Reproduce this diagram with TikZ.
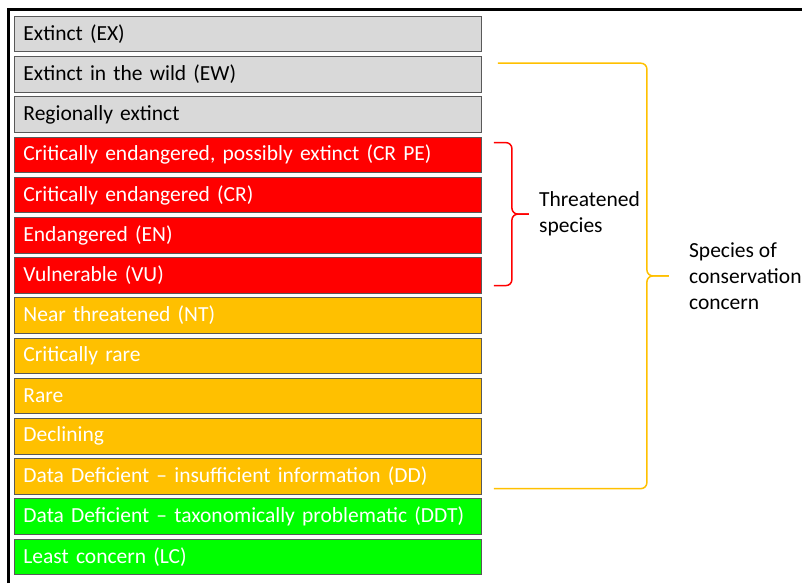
\documentclass[tikz,border=0pt]{standalone}
\usepackage{fontspec}
\setmainfont{Carlito}
\usetikzlibrary{positioning,calc}
\definecolor{iucngrey}{HTML}{D9D9D9}
\definecolor{iucnred}{HTML}{FF0000}
\definecolor{iucnorange}{HTML}{FFC000}
\definecolor{iucngreen}{HTML}{00FF00}
\definecolor{iucnedge}{HTML}{595959}

\begin{document}
\begin{tikzpicture}[x=1pt,y=1pt,
  cat/.style={rectangle, draw=iucnedge, line width=0.9pt, text width=449pt,
    align=left, inner xsep=9pt, inner ysep=0pt, minimum height=35.5pt,
    font=\fontsize{21.5pt}{26pt}\selectfont},
  greycat/.style={cat, fill=iucngrey, text=black},
  redcat/.style={cat, fill=iucnred, text=white},
  orangecat/.style={cat, fill=iucnorange, text=white},
  greencat/.style={cat, fill=iucngreen, text=white},
  brace/.style={line width=1.5pt, rounded corners=6pt},
  lbl/.style={align=left, anchor=west, inner sep=0pt,
    font=\fontsize{21.5pt}{26pt}\selectfont}]
\useasboundingbox (0,0) rectangle (802,-583);
% frame
\draw[line width=2.5pt] (8.3,-583) -- (8.3,-9.5) -- (810,-9.5);

% categories
\node[greycat, anchor=north west] (ex) at (14,-16) {Extinct (EX)};
\node[greycat, below=3.8pt of ex] (ew) {Extinct in the wild (EW)};
\node[greycat, below=3.8pt of ew] (re) {Regionally extinct};
\node[redcat, below=3.8pt of re] (crpe) {Critically endangered, possibly extinct (CR PE)};
\node[redcat, below=3.8pt of crpe] (cr) {Critically endangered (CR)};
\node[redcat, below=3.8pt of cr] (en) {Endangered (EN)};
\node[redcat, below=3.8pt of en] (vu) {Vulnerable (VU)};
\node[orangecat, below=3.8pt of vu] (nt) {Near threatened (NT)};
\node[orangecat, below=3.8pt of nt] (crare) {Critically rare};
\node[orangecat, below=3.8pt of crare] (rare) {Rare};
\node[orangecat, below=3.8pt of rare] (decl) {Declining};
\node[orangecat, below=3.8pt of decl] (dd) {Data Deficient -- insufficient information (DD)};
\node[greencat, below=3.8pt of dd] (ddt) {Data Deficient -- taxonomically problematic (DDT)};
\node[greencat, below=3.8pt of ddt] (lc) {Least concern (LC)};

% threatened brace
\coordinate (rtop) at ([xshift=12pt,yshift=-6pt]crpe.north east);
\coordinate (rbot) at ([xshift=12pt,yshift=8pt]vu.south east);
\coordinate (rmid) at ($(rtop)!0.5!(rbot)+(18,0)$);
\coordinate (rtip) at ($(rmid)+(17,0)$);
\draw[brace, iucnred] (rtop) -| (rmid) -- (rtip);
\draw[brace, iucnred] (rbot) -| (rmid) -- (rtip);
\node[lbl] (thr) at ($(rtip)+(10,0)$) {Threatened\\species};

% conservation concern brace
\coordinate (ytop) at ([xshift=16pt,yshift=-7pt]ew.north east);
\coordinate (ybot) at ([xshift=12pt,yshift=6pt]dd.south east);
\coordinate (ymid) at ($(ytop)!0.5!(ybot)+(151,0)$);
\coordinate (ytip) at ($(ymid)+(22,0)$);
\draw[brace, iucnorange] (ytop) -| (ymid) -- (ytip);
\draw[brace, iucnorange] (ybot) -| (ymid) -- (ytip);
\node[lbl] (soc) at ($(ytip)+(20,0)$) {Species of\\conservation\\concern};
\end{tikzpicture}
\end{document}
